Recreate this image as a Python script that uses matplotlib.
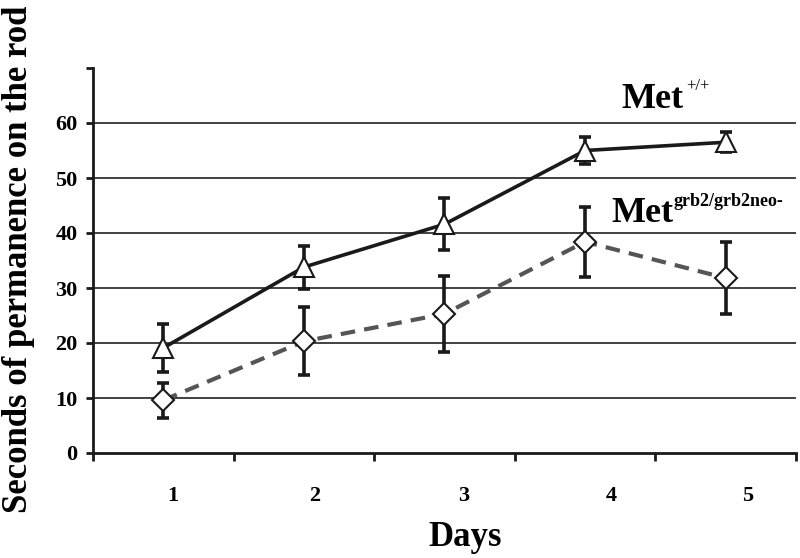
import matplotlib
matplotlib.use("Agg")
import matplotlib.pyplot as plt
import matplotlib.transforms as mtransforms
import numpy as np

days = ["1", "2", "3", "4", "5"]
wt_mean = [19.1, 33.8, 41.6, 55.0, 56.5]
wt_err = [4.3, 3.9, 4.7, 2.5, 1.8]
mut_mean = [9.6, 20.3, 25.3, 38.4, 31.8]
mut_err = [3.2, 6.2, 6.9, 6.4, 6.6]
yticks = [0, 10, 20, 30, 40, 50, 60, 70]
ytick_labels = ["0", "10", "20", "30", "40", "50", "60", ""]

serif = ["Liberation Serif", "DejaVu Serif"]

fig = plt.figure(figsize=(8, 5.58), dpi=100)
ax = fig.add_axes([93/800, 1-453/558, (796-93)/800, (453-68)/558])

x = np.arange(1, len(days) + 1)

for y in yticks[1:-1]:
    ax.axhline(y, color="#333333", lw=1.3, zorder=1)

ax.errorbar(x, wt_mean, yerr=wt_err, fmt="none", ecolor="#1a1a1a",
            elinewidth=2.6, capsize=4, capthick=2.6, zorder=3)
ax.plot(x, wt_mean, color="#1a1a1a", lw=2.6, zorder=4)
ax.plot(x, wt_mean, ls="none", marker="^", ms=15, mfc="white", mec="#1a1a1a", mew=1.5, zorder=5)

ax.errorbar(x, mut_mean, yerr=mut_err, fmt="none", ecolor="#1a1a1a",
            elinewidth=2.6, capsize=4, capthick=2.6, zorder=3)
ax.plot(x, mut_mean, color="#555555", lw=3, ls=(0, (3.5, 2.2)), zorder=4)
ax.plot(x, mut_mean, ls="none", marker="D", ms=11, mfc="white", mec="#1a1a1a", mew=1.5, zorder=5)

ax.set_xlim(0.5, len(days) + 0.5)
ax.set_ylim(0, 70)

for s in ["top", "right"]:
    ax.spines[s].set_visible(False)
for s in ["left", "bottom"]:
    ax.spines[s].set_color("#1a1a1a")
    ax.spines[s].set_linewidth(2)

ax.set_yticks(yticks)
ax.set_yticklabels(ytick_labels, fontfamily=serif, fontweight="bold", fontsize=16)
ax.tick_params(axis="y", direction="out", length=5, width=2, pad=6, color="#1a1a1a")

ax.set_xticks(x)
ax.set_xticklabels(days, fontfamily=serif, fontweight="bold", fontsize=16)
ax.tick_params(axis="x", which="major", length=0, pad=24)
ax.set_xticks(np.arange(0.5, len(days) + 1, 1.0), minor=True)
ax.tick_params(axis="x", which="minor", direction="out", length=6, width=2, color="#1a1a1a")

# the day labels sit a little right of the category centres in the reference
label_shift_px = [10, 11, 19, 26, 22]
for lab, dx in zip(ax.get_xticklabels(), label_shift_px):
    off = mtransforms.ScaledTranslation(dx / fig.dpi, 0, fig.dpi_scale_trans)
    lab.set_transform(lab.get_transform() + off)

fig.text(19/800, 1-259/558, "Seconds of permanence on the rod", rotation=90,
         ha="center", va="center", fontfamily=serif, fontweight="bold", fontsize=25)
fig.text(465/800, 1-538/558, "Days", ha="center", va="center",
         fontfamily=serif, fontweight="bold", fontsize=25)

# Series labels
fig.text(621/800, 1-108/558, "Met", ha="left", va="baseline",
         fontfamily=serif, fontweight="bold", fontsize=26)
fig.text(686/800, 1-90/558, "+/+", ha="left", va="baseline",
         fontfamily=serif, fontsize=12)
fig.text(611/800, 1-222/558, "Met", ha="left", va="baseline",
         fontfamily=serif, fontweight="bold", fontsize=26)
fig.text(674/800, 1-206/558, "grb2/grb2neo-", ha="left", va="baseline",
         fontfamily=serif, fontweight="bold", fontsize=13)

fig.savefig("out.png", dpi=100)
